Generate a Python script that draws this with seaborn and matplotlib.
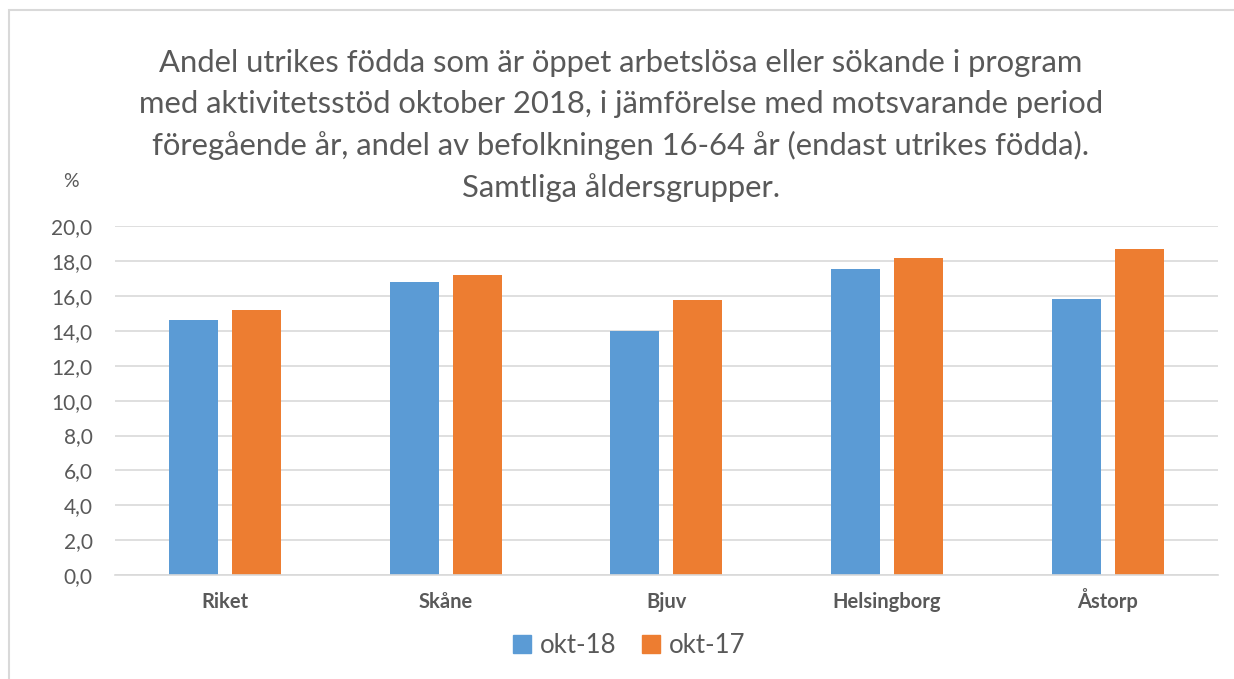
import matplotlib
matplotlib.use("Agg")
import matplotlib.pyplot as plt
import seaborn as sns
import pandas as pd
from matplotlib.patches import Rectangle
from matplotlib.ticker import FuncFormatter

categories = ["Riket", "Skåne", "Bjuv", "Helsingborg", "Åstorp"]
okt18 = [14.6, 16.8, 14.0, 17.55, 15.8]
okt17 = [15.2, 17.2, 15.75, 18.2, 18.7]
series = ["okt-18", "okt-17"]
yticks = [0, 2, 4, 6, 8, 10, 12, 14, 16, 18, 20]

df = pd.DataFrame({
    "Område": categories * 2,
    "Värde": okt18 + okt17,
    "Serie": [series[0]] * len(categories) + [series[1]] * len(categories),
})

sns.set_theme(style="white")
plt.rcParams["font.family"] = ["Lato", "DejaVu Sans"]
txt = "#595959"
blue = "#5B9BD5"
orange = "#ED7D31"

fig = plt.figure(figsize=(12.34, 6.79), dpi=100)
ax = fig.add_axes([0.093, 0.153, 0.894, 0.514])

sns.barplot(data=df, x="Område", y="Värde", hue="Serie", order=categories,
            hue_order=series, palette=[blue, orange], saturation=1,
            width=0.57, gap=0.22, ax=ax, legend=True, edgecolor="none")

ax.set_xlim(-0.5, 4.5)
ax.set_ylim(0, 20)
ax.set_yticks(yticks)
ax.yaxis.set_major_formatter(FuncFormatter(lambda v, p: f"{v:.1f}".replace(".", ",")))
ax.grid(axis="y", color="#D9D9D9", linewidth=1.2)
ax.set_axisbelow(True)
for s in ["top", "right", "left"]:
    ax.spines[s].set_visible(False)
ax.spines["bottom"].set_color("#D9D9D9")
ax.spines["bottom"].set_linewidth(1.2)
ax.set_xlabel("")
ax.set_ylabel("")
ax.tick_params(axis="y", labelsize=15, labelcolor=txt, length=0, pad=16)
ax.tick_params(axis="x", labelsize=14.5, labelcolor=txt, length=0, pad=24)
for lbl in ax.get_xticklabels():
    lbl.set_fontweight("bold")
    lbl.set_verticalalignment("baseline")

leg = ax.get_legend()
leg.remove()
handles = [Rectangle((0, 0), 1, 1, color=blue), Rectangle((0, 0), 1, 1, color=orange)]
fig.legend(handles, series, loc="center", bbox_to_anchor=(0.51, 0.05), ncol=2,
           frameon=False, fontsize=18.5, labelcolor=txt, handlelength=0.7,
           handleheight=0.7, handletextpad=0.35, columnspacing=1.0)

title = ("Andel utrikes födda som är öppet arbetslösa eller sökande i program\n"
         "med aktivitetsstöd oktober 2018, i jämförelse med motsvarande period\n"
         "föregående år, andel av befolkningen 16-64 år (endast utrikes födda).\n"
         "Samtliga åldersgrupper.")
fig.text(0.503, 0.815, title, ha="center", va="center", fontsize=22.3, color=txt,
         linespacing=1.54)
fig.text(0.051, 0.733, "%", ha="left", va="center", fontsize=14, color=txt)

fig.patches.append(Rectangle((0.007, -0.01), 1.0, 0.995, transform=fig.transFigure,
                             fill=False, edgecolor="#D9D9D9", linewidth=1.5))

fig.savefig("out.png", dpi=100)
